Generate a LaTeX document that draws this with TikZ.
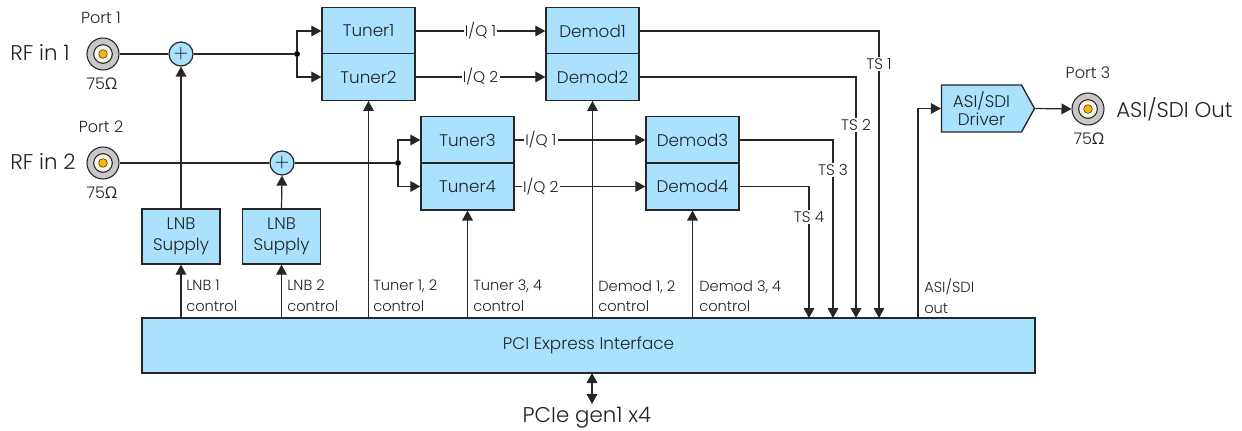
\documentclass[tikz,border=0pt]{standalone}
\usepackage{fontspec}
\setmainfont{Poppins Light}
\newfontfamily\ohmfont{Open Sans}
\usetikzlibrary{arrows.meta,shapes.symbols}
\definecolor{boxblue}{HTML}{A9E1FF}
\definecolor{portgray}{HTML}{C8C8C8}
\definecolor{portcream}{HTML}{FFF8E8}
\definecolor{portgold}{HTML}{FFB400}
\definecolor{inkgray}{HTML}{222222}
\newcommand{\ohm}{{\ohmfont Ω}}
\tikzset{
    block/.style={draw=black!85, line width=1pt, fill=boxblue, text=inkgray, inner sep=0pt, align=center, font=\fontsize{12.6}{15.5}\selectfont},
    halfbox/.style={block, minimum width=69.75pt, minimum height=35pt},
    lnbbox/.style={block, minimum width=58.5pt, minimum height=41.25pt},
    adder/.style={circle, draw=black!85, line width=0.9pt, fill=boxblue, minimum size=18pt, inner sep=0pt, font=\fontsize{14}{14}\selectfont},
    dot/.style={circle, fill=black, minimum size=4.4pt, inner sep=0pt},
    sig/.style={line width=0.9pt, draw=black!85, -{Triangle[length=7.5pt,width=8pt]}},
    wire/.style={line width=0.9pt, draw=black!85},
    lbl/.style={fill=white, text=inkgray, inner sep=1pt, font=\fontsize{11.5}{13}\selectfont},
    ctrl/.style={text=inkgray, anchor=west, align=left, inner sep=0pt, font=\fontsize{11}{15.5}\selectfont},
    note/.style={text=inkgray, inner sep=0pt, font=\fontsize{12}{13}\selectfont},
    bigtext/.style={text=inkgray, inner sep=0pt, font=\fontsize{16}{18}\selectfont},
    portout/.style={circle, draw=black!85, line width=0.8pt, fill=portgray, minimum size=24pt, inner sep=0pt},
    portmid/.style={circle, draw=black!85, line width=0.8pt, fill=portcream, minimum size=14pt, inner sep=0pt},
    portpin/.style={circle, draw=black!70, line width=0.5pt, fill=portgold, minimum size=6.5pt, inner sep=0pt},
}
\begin{document}
\begin{tikzpicture}[x=0.75pt, y=-0.75pt]
    \useasboundingbox (0,0) rectangle (1242,431);

    \node[halfbox] (tuner1) at (368.5,31) {Tuner1};
    \node[halfbox] (tuner2) at (368.5,77) {Tuner2};
    \node[halfbox] (tuner3) at (467.5,140) {Tuner3};
    \node[halfbox] (tuner4) at (467.5,186.5) {Tuner4};
    \node[halfbox] (demod1) at (592.5,31) {Demod1};
    \node[halfbox] (demod2) at (592.5,77) {Demod2};
    \node[halfbox] (demod3) at (692.5,140) {Demod3};
    \node[halfbox] (demod4) at (692.5,186.5) {Demod4};
    \node[lnbbox] (lnb1) at (181,236.5) {LNB\\Supply};
    \node[lnbbox] (lnb2) at (281.5,236.5) {LNB\\Supply};
    \node[block, minimum width=669.75pt, minimum height=41.25pt] (pci) at (588.5,345.5) {PCI Express Interface};
    \node[block, signal, signal to=east, signal pointer angle=122, minimum width=69.75pt, minimum height=35.25pt, font=\fontsize{12.6}{13.5}\selectfont] (driver) at (981.5,108.5) {ASI/SDI\\Driver};

    \node[adder] (add1) at (181,54) {$+$};
    \node[adder] (add2) at (282,163) {$+$};
    \node[dot] (fork1) at (297,54) {};
    \node[dot] (fork2) at (398,163) {};

    \node[portout] (port1) at (103,54) {};
    \node[portmid] (port1mid) at (port1) {};
    \node[portpin] (port1pin) at (port1) {};
    \node[portout] (port2) at (103,163) {};
    \node[portmid] (port2mid) at (port2) {};
    \node[portpin] (port2pin) at (port2) {};
    \node[portout] (port3) at (1088,109) {};
    \node[portmid] (port3mid) at (port3) {};
    \node[portpin] (port3pin) at (port3) {};

    \node[note] (port1name) at (101,18) {Port 1};
    \node[note] (port2name) at (101,127) {Port 2};
    \node[note] (port3name) at (1088,73) {Port 3};
    \node[note] (port1ohm) at (102,84) {75\ohm};
    \node[note] (port2ohm) at (102,193) {75\ohm};
    \node[note] (port3ohm) at (1089,139) {75\ohm};
    \node[bigtext, anchor=west] (rfin1) at (10,52) {RF in 1};
    \node[bigtext, anchor=west] (rfin2) at (10,161) {RF in 2};
    \node[bigtext, anchor=west] (asiout) at (1116,109) {ASI/SDI Out};
    \node[bigtext] (pcie) at (587,418) {PCIe gen1 x4};

    \node[ctrl] (lnb1text) at (186,296) {LNB 1\\control};
    \node[ctrl] (lnb2text) at (287,296) {LNB 2\\control};
    \node[ctrl] (tuner12text) at (373,296) {Tuner 1, 2\\control};
    \node[ctrl] (tuner34text) at (473,296) {Tuner 3, 4\\control};
    \node[ctrl] (demod12text) at (598,296) {Demod 1, 2\\control};
    \node[ctrl] (demod34text) at (699,296) {Demod 3, 4\\control};
    \node[ctrl] (asitext) at (924,296) {ASI/SDI\\out};

    \coordinate (ts1end) at (879,318);
    \coordinate (ts2end) at (856,318);
    \coordinate (ts3end) at (833,318);
    \coordinate (ts4end) at (809,318);
    \coordinate (asistart) at (918,318);
    \coordinate (pcitop) at (592,373);
    \coordinate (pciebus) at (592,404);

    \draw[wire] (port1) -- (add1);
    \draw[wire] (add1) -- (fork1);
    \draw[sig] (fork1) |- (tuner1.west);
    \draw[sig] (fork1) |- (tuner2.west);
    \draw[wire] (port2) -- (add2);
    \draw[wire] (add2) -- (fork2);
    \draw[sig] (fork2) |- (tuner3.west);
    \draw[sig] (fork2) |- (tuner4.west);

    \draw[sig] (tuner1) -- node[lbl] {I/Q 1} (demod1);
    \draw[sig] (tuner2) -- node[lbl] {I/Q 2} (demod2);
    \draw[sig] (tuner3) -- node[lbl, pos=0.2] {I/Q 1} (demod3);
    \draw[sig] (tuner4) -- node[lbl, pos=0.2] {I/Q 2} (demod4);

    \draw[sig] (demod1.east) -| node[lbl, pos=0.557] {TS 1} (ts1end);
    \draw[sig] (demod2.east) -| node[lbl, pos=0.6] {TS 2} (ts2end);
    \draw[sig] (demod3.east) -| node[lbl, pos=0.584] {TS 3} (ts3end);
    \draw[sig] (demod4.east) -| node[lbl, pos=0.617] {TS 4} (ts4end);

    \draw[sig] (lnb1.north) -- (add1.south);
    \draw[sig] (lnb2.north) -- (add2.south);
    \draw[sig] (pci.north -| lnb1) -- (lnb1.south);
    \draw[sig] (pci.north -| lnb2) -- (lnb2.south);
    \draw[sig] (pci.north -| tuner2) -- (tuner2.south);
    \draw[sig] (pci.north -| tuner4) -- (tuner4.south);
    \draw[sig] (pci.north -| demod2) -- (demod2.south);
    \draw[sig] (pci.north -| demod4) -- (demod4.south);

    \draw[sig] (asistart) |- (driver.west);
    \draw[sig] (driver.east) -- (port3.west);
    \draw[sig, {Triangle[length=7.5pt,width=8pt]}-{Triangle[length=7.5pt,width=8pt]}] (pcitop) -- (pciebus);
\end{tikzpicture}
\end{document}
